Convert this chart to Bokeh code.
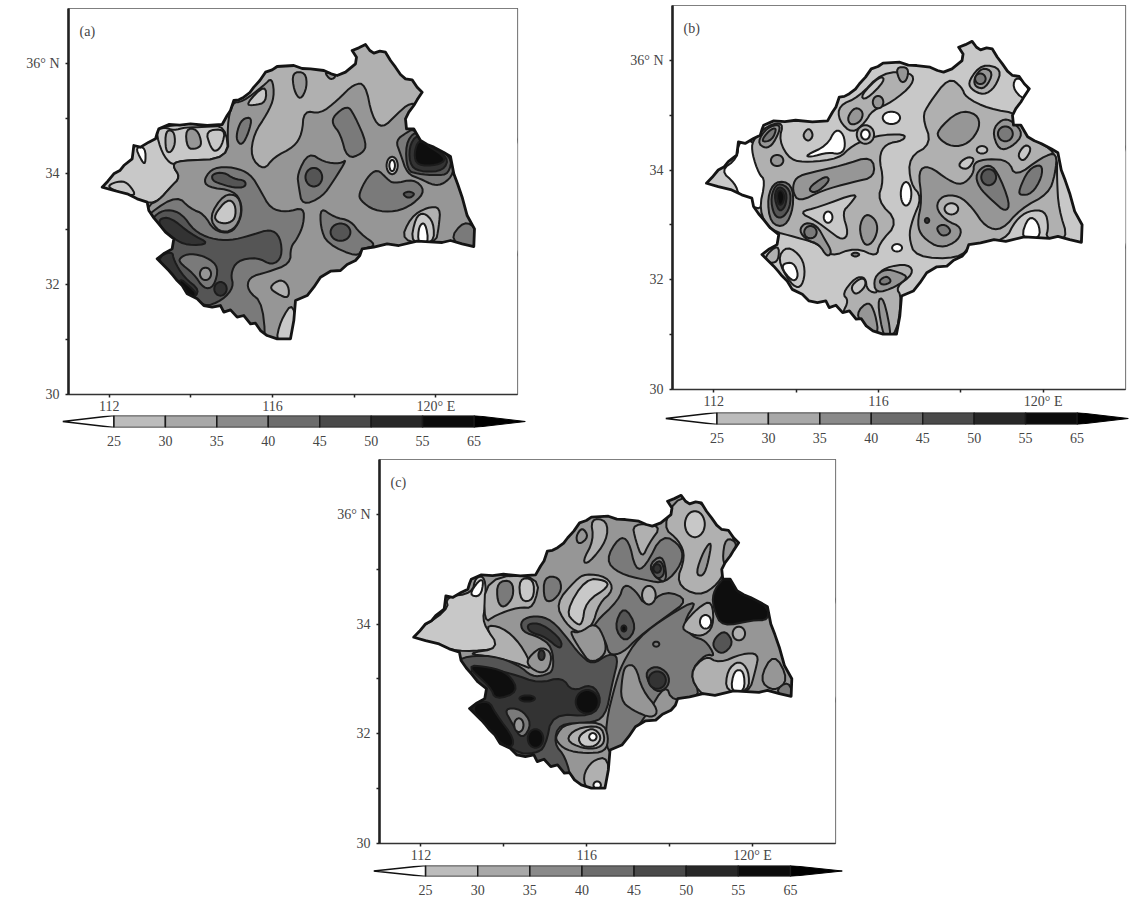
import numpy as np
from bokeh.embed import file_html
from bokeh.layouts import column, row
from bokeh.models import FixedTicker, Label, Spacer, Range1d
from bokeh.plotting import figure
from bokeh.resources import INLINE

FONT = "Liberation Serif"
INK = "#454545"
# precipitation classes, class index -> grey
LEVEL_FILL = ["#ffffff", "#c8c8c8", "#b0b0b0", "#969696", "#7a7a7a", "#555555", "#333333", "#0e0e0e"]
BAR_LABELS = ["25", "30", "35", "40", "45", "50", "55", "65"]
BAR_FILL = ["#bcbcbc", "#a8a8a8", "#8a8a8a", "#6c6c6c", "#4a4a4a", "#282828", "#0c0c0c"]
LON_TICKS = [112, 114, 116, 118, 120]
LAT_TICKS = [30, 31, 32, 33, 34, 35, 36]
LON_LABELS = {112: "112", 114: "", 116: "116", 118: "", 120: "120° E"}
LAT_LABELS = {30: "30", 31: "", 32: "32", 33: "", 34: "34", 35: "", 36: "36° N"}

# (crop x0, crop y0, frame left, frame top, px per deg lon, px per deg lat)
CAL_A = (90, 30, 68, 8, 40.82, 55.14)
CAL_B = (695, 30, 672, 5, 41.2, 54.86)
CAL_C = (405, 485, 379, 461, 41.45, 54.86)

OUTLINE = [(35,470),(52,452),(70,430),(88,420),(100,405),(125,385),(128,362),(130,345),(150,350),(175,335),(195,325),(200,308),(205,295),(235,282),(268,284),(300,280),(350,285),(395,282),(410,255),(420,240),(430,210),(445,208),(460,200),(478,186),(490,170),(508,150),(525,125),(545,118),(560,108),(610,105),(635,114),(660,115),(700,120),(722,130),(740,135),(765,125),(795,100),(798,80),(785,60),(805,52),(825,42),(838,60),(850,68),(868,62),(885,65),(900,90),(915,110),(930,132),(945,145),(965,148),(980,170),(995,185),(980,208),(970,225),(955,245),(945,265),(948,295),(970,295),(990,330),(1010,342),(1030,350),(1060,366),(1080,378),(1090,430),(1102,462),(1115,500),(1130,555),(1152,595),(1150,648),(1115,640),(1080,630),(1055,636),(1030,635),(980,632),(925,645),(890,640),(850,650),(815,655),(808,675),(795,690),(770,702),(750,720),(720,722),(690,740),(670,770),(650,795),(615,810),(610,870),(600,925),(560,925),(530,915),(510,900),(495,878),(480,880),(460,855),(440,860),(420,838),(400,845),(390,825),(365,830),(340,825),(320,805),(290,790),(275,765),(260,750),(248,735),(235,720),(200,685),(222,668),(245,655),(250,625),(225,605),(205,580),(190,562),(175,540),(170,515),(140,505),(110,490),(70,480)]


def oval(level, cx, cy, rx, ry):
    t = np.linspace(0, 2 * np.pi, 8, endpoint=False)
    return (level, [(cx + rx * np.cos(a), cy + ry * np.sin(a)) for a in t])


SHAPES_A = [
    (2, [(0,0),(1300,0),(1300,1000),(0,1000)]),
    (1, [(30,470),(130,340),(200,320),(205,290),(300,278),(400,280),(415,385),(330,385),(265,390),(245,405),(270,440),(240,470),(205,510),(170,520),(110,490),(30,480)]),
    (1, [(195,300),(222,290),(250,300),(285,290),(340,290),(405,285),(415,385),(265,390),(245,405),(215,370)]),
    (2, [(225,300),(250,300),(255,340),(240,368),(225,360)]),
    (3, [(285,295),(320,295),(335,340),(320,355),(290,355)]),
    (1, [(345,300),(405,295),(395,345),(375,365),(360,350)]),
    (0, [(135,350),(165,350),(165,405),(150,385)]),
    (1, [(50,465),(90,450),(115,460),(140,500),(70,480)]),
    (3, [(170,525),(205,510),(240,470),(270,440),(245,405),(265,390),(415,385),(410,285),(425,215),(455,215),(520,165),(545,140),(552,200),(530,250),(490,310),(480,380),(520,420),(550,380),(610,350),(635,310),(640,240),(690,250),(740,210),(790,160),(825,160),(845,260),(875,295),(920,250),(960,215),(1000,230),(1200,400),(1200,700),(800,1000),(300,1000),(100,700)]),
    (1, [(465,222),(525,160),(528,215),(490,225)]),
    (3, [(605,125),(645,125),(650,170),(630,210),(610,180)]),
    (3, [(700,122),(740,135),(720,150)]),
    (4, [(440,300),(455,265),(485,260),(475,305),(455,345),(438,330)]),
    (4, [(730,255),(770,225),(790,250),(830,340),(815,370),(770,385),(750,310),(725,280)]),
    (4, [(620,430),(655,365),(700,395),(750,400),(770,385),(730,450),(695,500),(635,525),(625,470)]),
    oval(5, 670, 440, 27, 30),
    (4, [(180,545),(260,495),(300,535),(340,550),(370,600),(420,610),(450,570),(455,520),(430,480),(350,470),(340,445),(370,410),(430,410),(480,430),(510,480),(540,535),(590,545),(640,530),(640,580),(620,625),(600,650),(600,700),(530,725),(475,740),(470,780),(520,820),(525,1000),(400,1000),(100,800),(130,600)]),
    (2, [(535,770),(570,745),(595,765),(595,805),(560,790)]),
    (1, [(610,810),(620,940),(555,940),(570,870)]),
    (3, [(355,560),(400,490),(445,495),(455,550),(430,600),(385,605)]),
    (1, [(370,555),(410,505),(435,520),(435,565),(410,580),(380,575)]),
    (5, [(365,430),(400,425),(430,445),(465,450),(465,470),(430,472),(390,460),(365,450)]),
    (5, [(190,555),(230,535),(275,550),(310,600),(360,625),(420,630),(480,615),(540,595),(570,620),(575,680),(545,705),(500,680),(440,690),(420,730),(430,770),(395,810),(340,830),(270,780),(190,700),(170,600)]),
    (4, [(270,680),(300,668),(350,680),(385,710),(370,770),(340,775),(310,730),(265,695)]),
    oval(3, 345, 730, 18, 20),
    oval(6, 390, 775, 20, 22),
    (6, [(205,565),(240,560),(300,610),(360,640),(290,645),(250,625),(210,590)]),
    (6, [(195,685),(245,660),(250,690),(280,740),(330,780),(300,810),(260,770)]),
    (7, [(265,740),(300,770),(320,790),(300,815),(270,790)]),
    (4, [(805,490),(830,440),(860,415),(890,445),(910,460),(970,445),(1005,480),(970,520),(915,545),(850,540),(810,510)]),
    (5, [(935,490),(955,482),(975,490),(955,505)]),
    (4, [(690,530),(730,560),(780,570),(810,610),(860,645),(815,655),(800,680),(710,640),(690,590)]),
    oval(5, 750, 605, 32, 28),
    (4, [(915,330),(950,305),(970,295),(990,330),(1030,350),(1085,378),(1090,430),(1060,460),(1030,465),(990,445),(950,430),(930,370)]),
    (5, [(945,340),(975,300),(1000,330),(1085,378),(1075,430),(1040,435),(980,430),(950,420)]),
    (6, [(955,350),(980,310),(1010,345),(1075,380),(1060,420),(1000,425),(960,410)]),
    (7, [(970,370),(985,325),(1020,350),(1070,385),(1040,405),(980,405)]),
    oval(1, 905, 405, 18, 28),
    oval(0, 905, 405, 9, 18),
    (2, [(930,632),(960,560),(1010,530),(1050,530),(1045,590),(1035,640)]),
    (1, [(960,640),(975,560),(1000,545),(1030,575),(1030,640)]),
    (0, [(982,640),(985,585),(1005,575),(1015,640)]),
    (4, [(1075,630),(1120,570),(1160,595),(1160,660)]),
]

SHAPES_B = [
    (1, [(0,0),(1300,0),(1300,1000),(0,1000)]),
    (0, [(75,420),(125,385),(130,330),(180,330),(195,430),(220,450),(200,550),(130,495),(120,460)]),
    (2, [(170,330),(215,285),(265,275),(250,330),(285,390),(340,395),(430,385),(470,345),(540,315),(630,310),(625,330),(570,340),(550,380),(565,450),(545,510),(610,575),(550,640),(545,680),(480,650),(405,680),(370,640),(300,620),(225,600),(190,540),(210,450),(190,430),(170,370)]),
    (1, [(310,545),(370,530),(490,485),(465,520),(440,545),(460,610),(440,630),(400,600),(360,570)]),
    oval(0, 398, 560, 14, 18),
    (3, [(300,440),(350,425),(440,405),(530,375),(540,440),(470,455),(380,480),(310,515),(290,480)]),
    (4, [(335,475),(390,435),(405,450),(360,490)]),
    (0, [(330,375),(395,345),(420,295),(445,310),(450,355),(430,372),(400,365),(345,380)]),
    (2, [(320,315),(340,290),(355,315),(338,335)]),
    (3, [(185,335),(215,290),(260,280),(235,340),(210,355)]),
    (4, [(195,335),(220,300),(245,290),(230,330)]),
    oval(3, 245, 390, 20, 18),
    (4, [(215,500),(240,450),(290,460),(295,530),(270,590),(225,580)]),
    (5, [(225,500),(245,455),(285,475),(285,530),(260,565),(235,555)]),
    (6, [(235,495),(250,465),(275,485),(270,530),(250,545)]),
    (7, [(243,490),(255,475),(268,495),(262,520),(250,525)]),
    (3, [(310,600),(330,575),(365,585),(390,630),(410,665),(395,680),(370,640),(335,630)]),
    oval(4, 345, 605, 20, 20),
    (3, [(490,590),(510,548),(540,565),(548,600),(530,640),(505,645)]),
    (4, [(465,672),(480,665),(495,672),(480,680)]),
    (2, [(205,680),(250,640),(250,690),(225,700)]),
    (1, [(245,685),(275,645),(320,680),(330,730),(315,775),(285,760)]),
    (0, [(260,700),(295,695),(310,735),(295,755),(265,725)]),
    (2, [(440,850),(460,810),(440,790),(480,740),(510,740),(515,780),(550,790),(540,740),(570,710),(640,700),(655,730),(600,770),(620,800),(600,930),(500,930),(440,880)]),
    (1, [(465,770),(490,745),(510,745),(510,770),(480,795)]),
    (3, [(535,740),(570,715),(610,725),(640,740),(600,770),(540,790)]),
    (4, [(550,750),(575,735),(590,755),(560,765)]),
    (3, [(480,850),(520,810),(540,850),(550,915),(510,890)]),
    (3, [(545,810),(565,800),(590,925),(565,925)]),
    (2, [(430,225),(490,200),(560,125),(650,125),(655,160),(590,215),(530,240),(510,275),(470,310),(430,270)]),
    (1, [(495,195),(555,135),(570,150),(510,210)]),
    (3, [(600,110),(640,110),(635,150),(615,158)]),
    oval(3, 548, 215, 17, 20),
    (3, [(455,260),(480,228),(505,245),(495,275),(465,285)]),
    oval(2, 510, 312, 28, 30),
    oval(0, 510, 312, 14, 16),
    oval(0, 588, 262, 28, 20),
    oval(0, 605, 652, 16, 12),
    oval(0, 632, 490, 17, 38),
    (2, [(760,140),(700,220),(680,260),(710,340),(640,380),(645,460),(680,500),(650,570),(640,620),(660,680),(790,685),(830,640),(930,630),(960,570),(1000,540),(1050,540),(1060,590),(1050,625),(1120,630),(1090,535),(1085,450),(1085,365),(1000,320),(975,250),(880,235),(810,200),(800,170)]),
    (2, [(820,150),(860,100),(920,115),(900,170),(865,195),(825,175)]),
    (3, [(835,145),(860,110),(895,125),(870,175),(840,170)]),
    oval(4, 855, 145, 17, 17),
    (0, [(950,170),(965,135),(1005,175),(985,210)]),
    (3, [(668,420),(700,405),(760,450),(800,465),(835,430),(835,395),(880,385),(940,390),(960,440),(1040,380),(1085,365),(1080,430),(1060,490),(975,535),(920,600),(870,590),(830,530),(790,495),(740,495),(720,530),(750,570),(800,590),(790,630),(735,655),(680,620),(665,580),(680,510)]),
    oval(1, 768, 535, 22, 18),
    (4, [(720,590),(750,580),(770,605),(740,620)]),
    oval(6, 695, 570, 7, 8),
    (4, [(840,430),(875,400),(905,420),(945,520),(930,545),(890,510),(850,470)]),
    oval(5, 880, 440, 24, 26),
    (4, [(970,480),(1000,415),(1040,400),(1040,440),(1010,490),(975,495)]),
    (3, [(725,300),(790,240),(845,250),(855,290),(820,340),(770,350),(730,325)]),
    (3, [(890,300),(920,265),(950,270),(985,310),(950,350),(910,360)]),
    oval(4, 930, 310, 24, 24),
    (1, [(785,405),(815,378),(840,385),(815,420)]),
    oval(1, 860, 358, 17, 12),
    (1, [(965,375),(990,340),(1010,355),(985,395)]),
    (0, [(975,625),(1000,555),(1030,575),(1035,625)]),
]

SHAPES_C = [
    (3, [(0,0),(1300,0),(1300,1000),(0,1000)]),
    (1, [(0,460),(130,380),(120,340),(200,330),(210,280),(240,280),(240,360),(230,420),(280,480),(285,495),(175,505),(100,490),(0,480)]),
    (0, [(190,335),(220,290),(235,290),(225,340)]),
    (2, [(240,280),(405,275),(385,375),(340,370),(270,395),(235,420)]),
    (4, [(275,295),(320,290),(325,340),(295,375),(275,355)]),
    (1, [(340,285),(385,285),(385,350),(345,355)]),
    (2, [(180,510),(285,495),(235,425),(290,430),(345,480),(385,560),(340,540),(260,520)]),
    (2, [(555,105),(605,110),(605,170),(550,240),(530,235),(565,170)]),
    (3, [(510,160),(530,130),(550,160),(520,185)]),
    (4, [(415,280),(460,280),(470,320),(440,355),(415,350)]),
    (2, [(680,120),(770,125),(730,180),(710,225),(690,170)]),
    (2, [(770,130),(820,30),(910,70),(1000,170),(960,250),(940,300),(880,340),(810,300),(840,220),(820,170)]),
    (3, [(950,230),(960,160),(1000,180),(965,250)]),
    oval(1, 868, 122, 32, 42),
    (3, [(870,270),(895,200),(920,170),(905,250),(890,280)]),
    (2, [(450,360),(510,290),(540,270),(605,280),(625,320),(580,360),(560,430),(520,450),(480,420)]),
    (1, [(480,385),(540,285),(600,290),(610,310),(540,355),(530,425),(510,420)]),
    (4, [(600,230),(640,160),(670,170),(690,260),(720,250),(770,150),(830,190),(830,240),(780,300),(720,290),(640,270)]),
    (4, [(725,250),(770,210),(785,280),(770,300)]),
    (5, [(735,255),(765,225),(780,270),(755,290)]),
    oval(6, 755, 255, 12, 14),
    (5, [(165,520),(260,515),(340,545),(380,580),(420,575),(445,560),(440,490),(400,460),(350,445),(345,410),(390,395),(440,410),(490,470),(520,510),(560,545),(610,510),(640,520),(620,600),(600,700),(550,720),(460,720),(445,780),(480,820),(500,900),(410,870),(340,830),(180,700),(130,560)]),
    (3, [(380,510),(410,490),(440,510),(430,560),(400,570),(360,540)]),
    oval(6, 408, 515, 10, 16),
    (6, [(365,420),(410,420),(470,470),(465,500),(420,460),(370,445)]),
    (6, [(180,540),(320,570),(400,600),(470,580),(500,625),(560,600),(590,650),(560,700),(440,690),(420,790),(390,810),(330,810),(190,690)]),
    (7, [(180,545),(250,550),(310,570),(340,625),(270,650),(255,610)]),
    (7, [(195,665),(250,650),(270,690),(330,770),(310,800),(230,730)]),
    oval(7, 545, 655, 37, 38),
    oval(7, 390, 765, 25, 30),
    oval(7, 365, 645, 25, 10),
    (4, [(295,675),(345,675),(380,720),(350,770),(320,720)]),
    oval(3, 340, 725, 15, 22),
    (4, [(565,420),(640,350),(655,300),(690,320),(720,370),(780,320),(850,350),(780,400),(700,460),(650,510),(610,515),(600,470),(570,440)]),
    oval(2, 730, 335, 22, 30),
    (5, [(625,430),(655,365),(695,430),(660,480)]),
    oval(7, 655, 435, 8, 10),
    (3, [(490,440),(520,450),(570,415),(600,470),(600,515),(555,540),(525,500)]),
    (4, [(650,540),(700,460),(790,395),(880,345),(830,420),(860,460),(900,470),(930,520),(900,510),(850,570),(890,640),(800,655),(780,600),(720,700),(640,800),(605,810),(600,720),(630,600)]),
    (3, [(660,545),(690,545),(710,620),(760,680),(740,705),(680,680),(645,650),(650,580)]),
    (5, [(715,570),(750,545),(790,570),(790,610),(750,630)]),
    oval(6, 755, 590, 28, 28),
    oval(4, 752, 482, 10, 8),
    (2, [(850,570),(900,515),(940,540),(1010,510),(1060,510),(1050,560),(1030,630),(950,635),(890,640)]),
    (1, [(960,625),(965,560),(1000,530),(1030,560),(1030,625)]),
    (0, [(975,625),(985,560),(1015,560),(1018,625)]),
    (2, [(825,430),(880,370),(920,350),(925,430),(890,460),(850,450)]),
    oval(0, 900, 415, 18, 22),
    (7, [(920,330),(955,280),(985,280),(1000,320),(1085,365),(1090,410),(1040,410),(950,430),(925,380)]),
    (5, [(920,490),(930,460),(960,440),(985,480),(950,515)]),
    oval(2, 1000, 450, 20, 22),
    (3, [(1060,590),(1105,505),(1150,590),(1105,625)]),
    (4, [(1105,625),(1150,590),(1165,650)]),
    (3, [(455,750),(480,720),(590,715),(610,760),(600,805),(540,810),(480,800),(450,770)]),
    (2, [(480,770),(510,735),(585,725),(600,770),(580,795),(530,795)]),
    (1, [(515,760),(560,730),(590,760),(570,790),(530,790)]),
    oval(0, 562, 760, 12, 12),
    (2, [(530,880),(560,830),(610,820),(610,930),(550,930)]),
    oval(0, 575, 905, 12, 12),
]


def to_lonlat(points, cal):
    x0, y0, left, top, kx, ky = cal
    pts = np.array(points, dtype=float)
    lon = 111 + (x0 + pts[:, 0] / 3 - left) / kx
    lat = 37 - (y0 + pts[:, 1] / 3 - top) / ky
    return lon, lat


def round_corners(points, passes=2):
    pts = np.array(points, dtype=float)
    for _ in range(passes):
        nxt = np.roll(pts, -1, axis=0)
        pts = np.column_stack([0.75 * pts + 0.25 * nxt, 0.25 * pts + 0.75 * nxt]).reshape(-1, 2)
    return pts


def map_panel(tag, shapes, cal, w, h, left, top, right):
    p = figure(frame_width=w, frame_height=h, x_range=Range1d(111, 122), y_range=Range1d(30, 37),
               toolbar_location=None, output_backend="svg", min_border_left=left, min_border_top=top,
               min_border_right=right, min_border_bottom=20, outline_line_color="#555555", outline_line_width=1.2,
               background_fill_color="white", margin=(0, 0, 0, 0))
    p.grid.visible = False
    xs, ys, fills = [], [], []
    for level, pts in shapes:
        lon, lat = to_lonlat(round_corners(pts), cal)
        xs.append(lon.tolist())
        ys.append(lat.tolist())
        fills.append(LEVEL_FILL[level])
    p.patches(xs, ys, fill_color=fills, line_color="#1c1c1c", line_width=2.0, line_join="round")
    olon, olat = to_lonlat(OUTLINE, CAL_A)
    rect_x, rect_y = [111, 122, 122, 111], [30, 30, 37, 37]
    p.multi_polygons(xs=[[[rect_x, olon.tolist()]]], ys=[[[rect_y, olat.tolist()]]], fill_color="white", line_color=None)
    p.patch(olon.tolist(), olat.tolist(), fill_color=None, line_color="#141414", line_width=2.8, line_join="round")
    for ax, ticks, labels in ((p.xaxis[0], LON_TICKS, LON_LABELS), (p.yaxis[0], LAT_TICKS, LAT_LABELS)):
        ax.ticker = FixedTicker(ticks=ticks)
        ax.major_label_overrides = labels
        ax.major_tick_in = 0
        ax.major_tick_out = 3
        ax.minor_tick_in = 0
        ax.minor_tick_out = 0
        ax.major_tick_line_color = "#222222"
        ax.major_tick_line_width = 1.5
        ax.major_label_text_font = FONT
        ax.major_label_text_font_size = "14px"
        ax.major_label_text_color = INK
    p.xaxis[0].major_label_standoff = 1
    p.yaxis[0].major_label_standoff = 6
    p.xaxis[0].axis_line_width = 1.6
    p.xaxis[0].axis_line_color = "#333333"
    p.yaxis[0].axis_line_width = 2.6
    p.yaxis[0].axis_line_color = "#222222"
    p.add_layout(Label(x=111, y=37, x_offset=11, y_offset=-30, text=tag, text_font=FONT, text_font_size="14px", text_color=INK))
    return p


def bar_panel(w, h, left, top, right, bottom, margin_top=0):
    p = figure(frame_width=w, frame_height=h, x_range=Range1d(-1, 8), y_range=Range1d(0, 1),
               toolbar_location=None, output_backend="svg", min_border_left=left, min_border_top=top,
               min_border_right=right, min_border_bottom=bottom, outline_line_color=None, margin=(margin_top, 0, 0, 0))
    p.grid.visible = False
    p.yaxis.visible = False
    idx = list(range(len(BAR_LABELS)))
    p.patch([idx[0] - 1, idx[0], idx[0]], [0.5, 1, 0], fill_color="white", line_color="#111111", line_width=1.5)
    p.patch([idx[-1], idx[-1] + 1, idx[-1]], [1, 0.5, 0], fill_color="#000000", line_color="#000000", line_width=1)
    p.quad(left=idx[:-1], right=idx[1:], bottom=0, top=1, fill_color=BAR_FILL, line_color="#1a1a1a", line_width=1.5)
    ax = p.xaxis[0]
    ax.ticker = FixedTicker(ticks=idx)
    ax.major_label_overrides = dict(zip(idx, BAR_LABELS))
    ax.axis_line_color = None
    ax.major_tick_line_color = None
    ax.minor_tick_line_color = None
    ax.major_label_standoff = 2
    ax.major_label_text_font = FONT
    ax.major_label_text_font_size = "14px"
    ax.major_label_text_color = INK
    return p


map_a = map_panel("(a)", SHAPES_A, CAL_A, 449, 386, 68, 8, 13)
bar_a = bar_panel(463, 12, 62, 0, 5, 26, margin_top=-1)
map_b = map_panel("(b)", SHAPES_B, CAL_B, 453, 384, 60, 5, 4)
bar_b = bar_panel(463, 12, 53, 1, 1, 26)
map_c = map_panel("(c)", SHAPES_C, CAL_C, 456, 384, 60, 6, 13)
bar_c = bar_panel(469, 11, 54, 0, 6, 20)

top = row(column(map_a, row(bar_a)), Spacer(width=82, height=10), column(map_b, row(bar_b)))
bottom = row(Spacer(width=319, height=10), column(map_c, row(bar_c)))
page = column(top, bottom)
open("out.html", "w").write(file_html(page, INLINE))
